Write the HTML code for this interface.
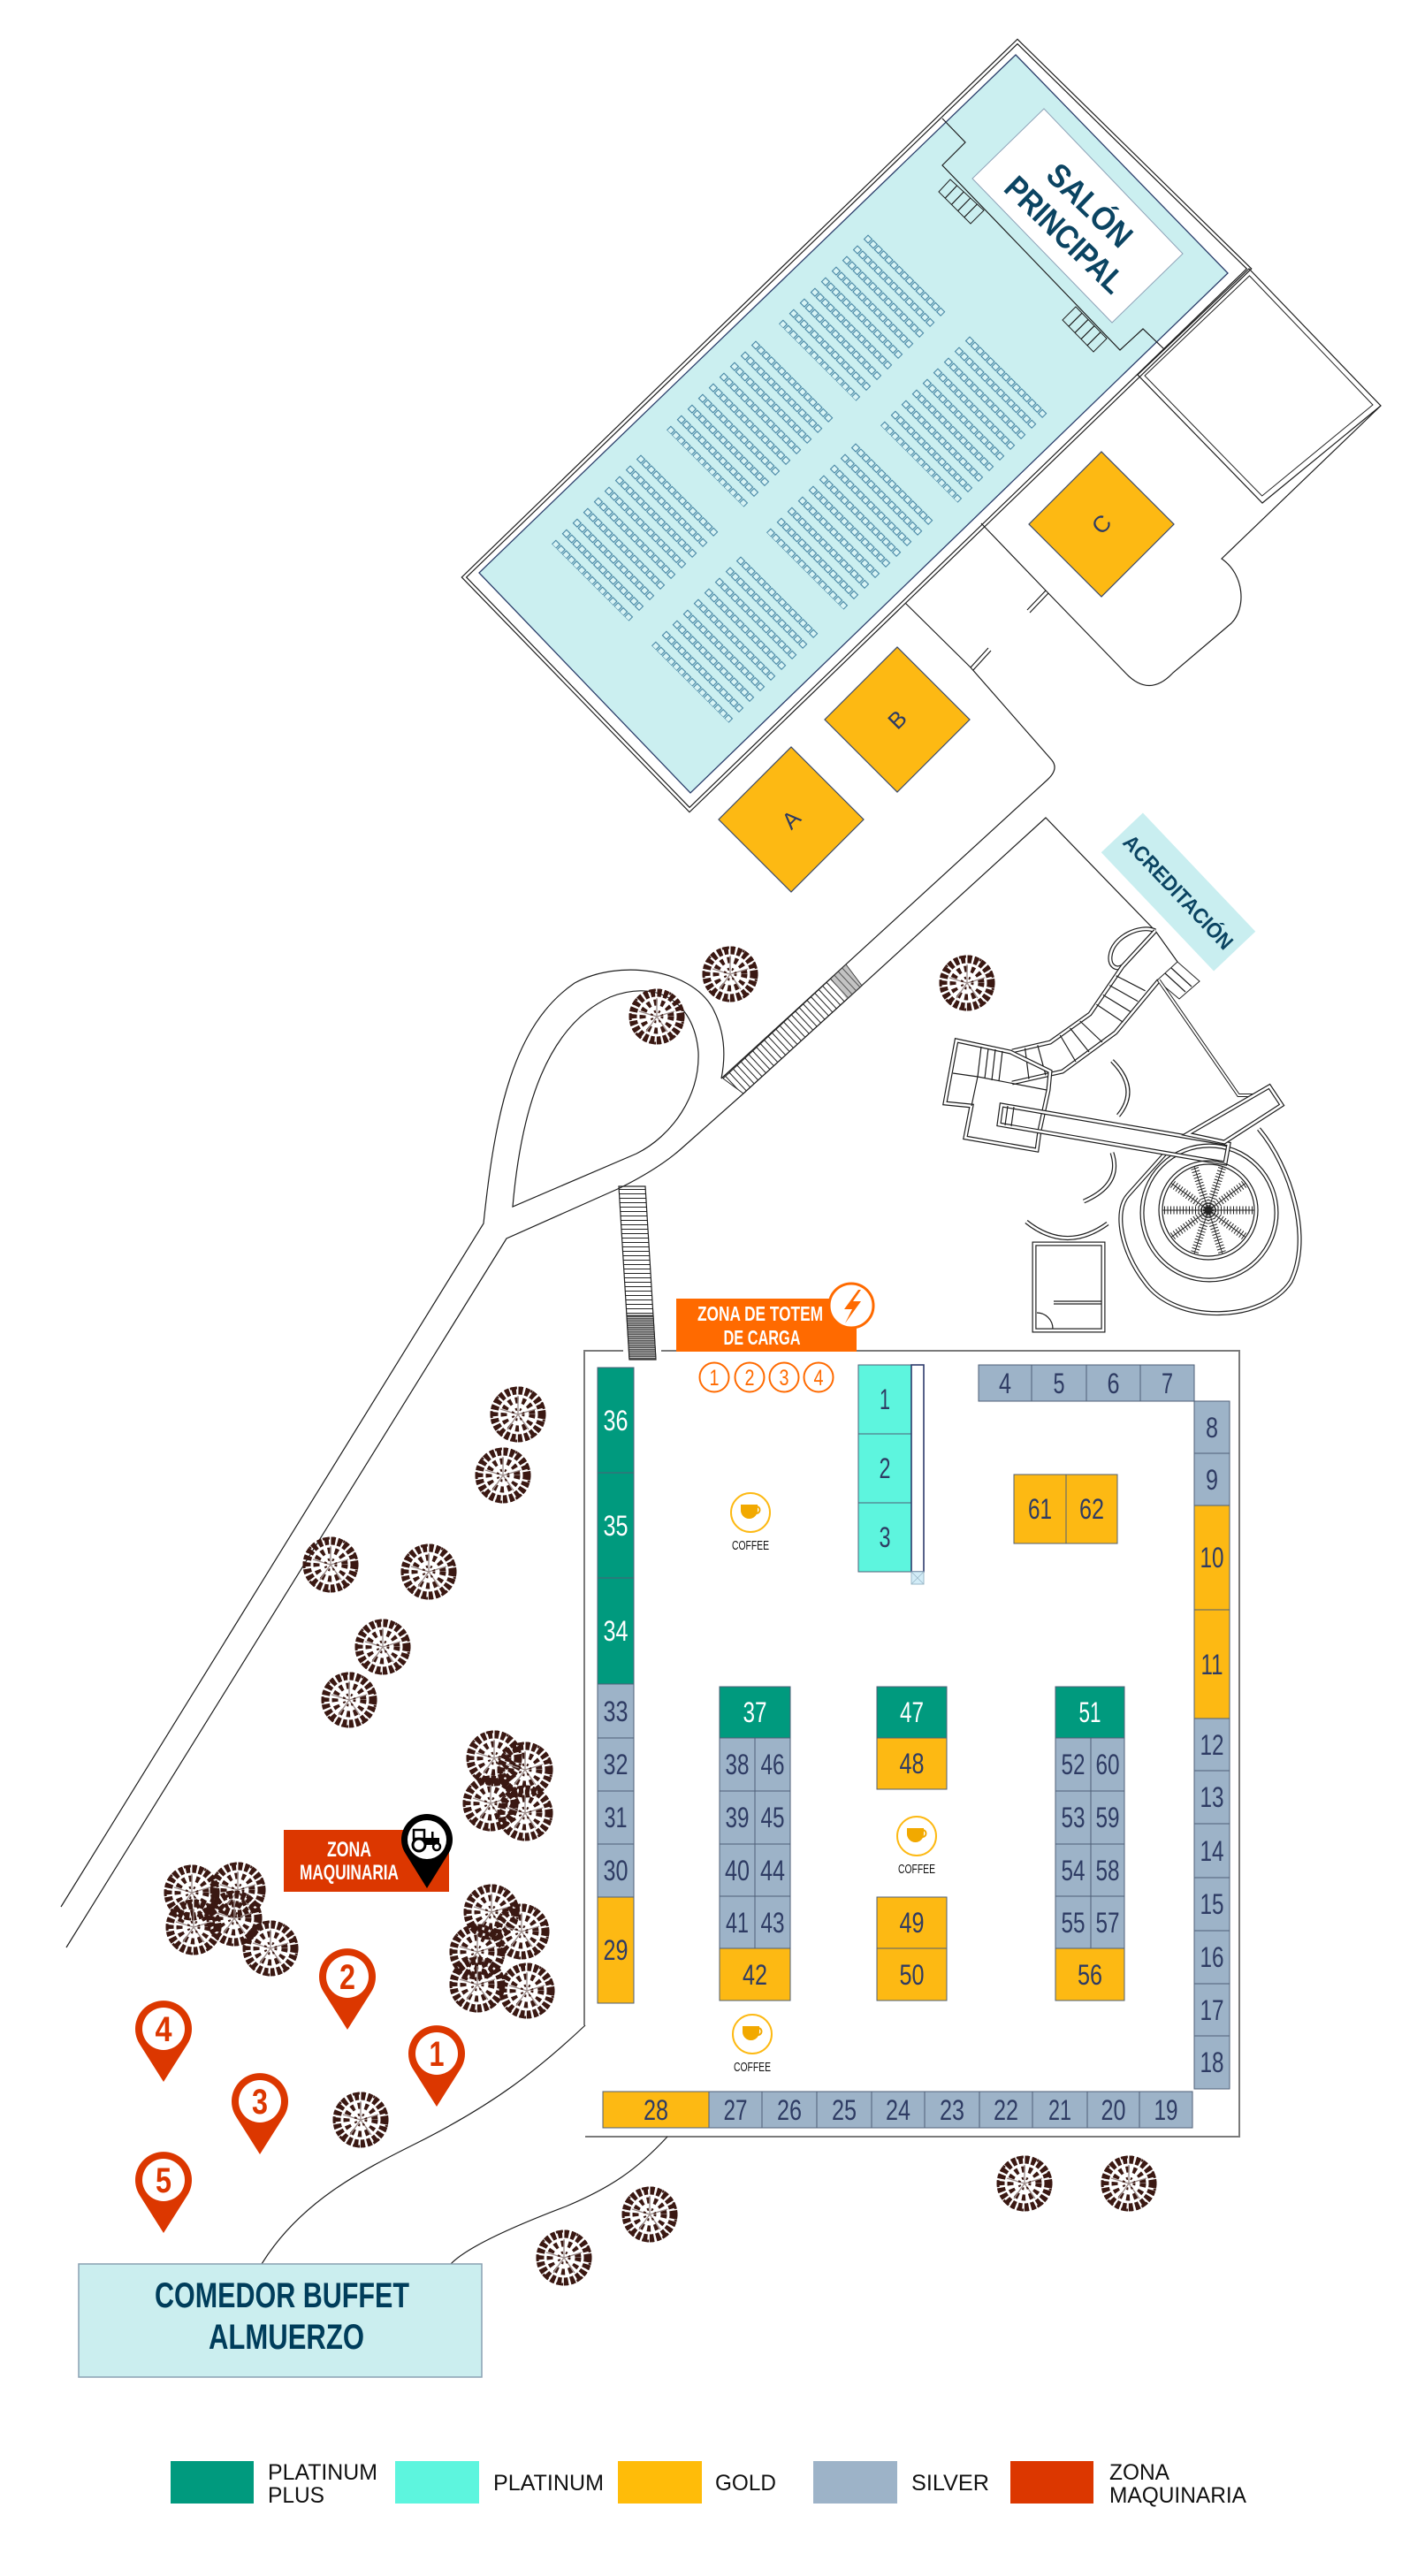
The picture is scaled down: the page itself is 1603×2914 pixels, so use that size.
<!DOCTYPE html>
<html><head><meta charset="utf-8"><style>
html,body{margin:0;padding:0;background:#fff}
svg{display:block}
.ln{fill:none;stroke:#1e1e1e;stroke-width:1.2}
.dk{fill:none;stroke:#1e1e1e;stroke-width:5}
.dw{fill:none;stroke:#fff;stroke-width:2.6}
.n{font-family:"Liberation Sans",sans-serif;font-size:32px;fill:#2e3b63;text-anchor:middle}
.nw{fill:#fff}
.bt{stroke:#4f5f77;stroke-width:1}
</style></head><body>
<svg width="1603" height="2914" viewBox="0 0 1603 2914" xmlns="http://www.w3.org/2000/svg">
<defs>
<pattern id="ch" width="8.3" height="17" patternUnits="userSpaceOnUse"><rect x="0.8" y="0.8" width="6.3" height="6.3" fill="#d8f4f5" stroke="#35789a" stroke-width="1"/></pattern>
<pattern id="hz" width="20" height="5" patternUnits="userSpaceOnUse"><line x1="0" y1="0.5" x2="20" y2="0.5" stroke="#222" stroke-width="1"/></pattern>
<pattern id="hz2" width="20" height="2.5" patternUnits="userSpaceOnUse"><rect width="20" height="2.5" fill="#555"/><line x1="0" y1="0.5" x2="20" y2="0.5" stroke="#ddd" stroke-width="0.8"/></pattern>
<pattern id="st" width="6" height="20" patternUnits="userSpaceOnUse" patternTransform="rotate(-42.9)"><line x1="0.5" y1="0" x2="0.5" y2="20" stroke="#222" stroke-width="1"/></pattern>
<symbol id="tree" viewBox="-34 -34 68 68">
<circle r="27" fill="none" stroke="#3a1812" stroke-width="9" stroke-dasharray="5 2.5"/>
<circle r="30" fill="none" stroke="#3a1812" stroke-width="3" stroke-dasharray="2 4"/>
<circle r="16" fill="none" stroke="#3a1812" stroke-width="7" stroke-dasharray="4 4"/>
<g stroke="#9c8c8a" stroke-width="1.3"><line x1="0" y1="0" x2="0" y2="-21"/><line x1="0" y1="0" x2="20" y2="-6"/><line x1="0" y1="0" x2="12" y2="17"/><line x1="0" y1="0" x2="-12" y2="17"/><line x1="0" y1="0" x2="-20" y2="-6"/></g>
<circle r="6" fill="none" stroke="#3a1812" stroke-width="3" stroke-dasharray="2 3"/>
</symbol>
<symbol id="cof" viewBox="-30 -30 60 80" overflow="visible">
<circle r="22" fill="#fff" stroke="#fdb913" stroke-width="2"/>
<path d="M-11,-9 H8 V-3 A9.5,9.5 0 0 1 -1.5,7 A9.5,9.5 0 0 1 -11,-3 Z" fill="#f2a900"/>
<path d="M7,-7 A4,4 0 1 1 6,1" fill="none" stroke="#f2a900" stroke-width="2"/>
<text x="0" y="42" font-family="Liberation Sans, sans-serif" font-size="15" text-anchor="middle" fill="#111" textLength="42" lengthAdjust="spacingAndGlyphs">COFFEE</text>
</symbol>
<path id="salonW" d="M1151,47 L1413,304 L780,916 L525,653 Z"/>
<path id="annex" d="M1413,304 L1562,459 L1428,569 L1287,424 Z"/>
<path id="tear" d="M1424,1277 C1460,1320 1485,1400 1460,1450 C1430,1495 1330,1500 1295,1450 C1268,1415 1260,1370 1276,1352 L1318,1305"/>
<path id="ramp" d="M1133,1250 L1390,1294 L1386,1316 L1130,1272 Z"/>
<path id="bridge" d="M1343,1283 L1436,1229 L1450,1250 L1385,1292 Z"/>
<path id="land" d="M1082,1177 L1143,1190 L1188,1212 L1186,1233 L1176,1279 L1173,1301 L1092,1287 L1099,1251 L1069,1248 Z"/>
<path id="flightA" d="M1307,1053 L1270,1093 L1233,1147 L1188,1179 L1145,1189"/>
<path id="flightB" d="M1311,1109 L1262,1168 L1202,1212 L1145,1225"/>
<path id="arc1" d="M1258,1200 Q1290,1232 1265,1262"/>
<path id="arc2" d="M1258,1304 Q1270,1340 1226,1359"/>
<path id="arc3" d="M1161,1382 Q1206,1418 1253,1384"/>
<path id="topArc" d="M1307,1053 C1290,1045 1258,1060 1256,1082 C1255,1092 1262,1098 1270,1093"/>
<path id="cbld" d="M1110,592 L1183,668 L1273,761 Q1300,790 1327,761 L1393,705 C1410,688 1408,650 1382,632 L1562,459"/>
</defs>

<!-- ROADS -->
<path class="ln" d="M69,2157 L547,1384 C560,1260 580,1160 650,1112 C700,1085 780,1095 806,1140 C822,1170 820,1200 816,1220"/>
<path class="ln" d="M580,1365 C590,1250 620,1160 690,1128 C740,1108 785,1130 790,1190 C792,1240 760,1285 720,1305 Z"/>
<path class="ln" d="M75,2203 L573,1401 L701,1344 Q745,1322 770,1300 L841,1237 L1183,925 L1307,1053 L1332,1088"/>
<path class="ln" d="M816,1220 L1185,882 Q1198,870 1190,860 L1098,755 L1022,680"/>
<path class="ln" d="M1098,755 L1118,733 M1101,758 L1121,736"/>
<!-- road stairs -->
<polygon points="957,1091 975,1115 841,1237 818,1220" fill="url(#st)" stroke="#222" stroke-width="1"/>
<polygon points="957,1091 975,1115 958,1130 940,1107" fill="#888" opacity="0.5"/>

<!-- expo stairs -->
<polygon points="700,1342 730,1342 742,1538 712,1538" fill="url(#hz)" stroke="#222" stroke-width="1.2"/>
<polygon points="709,1488 739,1488 742,1538 712,1538" fill="url(#hz2)" stroke="#222" stroke-width="1"/>

<!-- SALON -->
<use href="#salonW" class="dk"/><use href="#salonW" class="dw"/>
<polygon points="1149,62 1389,309 781,897 542,648" fill="#cbeff0" stroke="#2c3e6b" stroke-width="1.3"/>
<polyline class="ln" points="1066,134 1092,161 1066,187 1267,396 1293,372 1317,395"/>
<polygon points="1062,217 1075,203 1113,238 1098,253" fill="none" stroke="#222" stroke-width="1"/>
<path class="ln" d="M1069.2,224.2 L1082.6,210 M1076.4,231.4 L1090.2,217 M1083.6,238.6 L1097.8,224 M1090.8,245.8 L1105.4,231"/>
<polygon points="1202,362 1217,347 1252,383 1237,398" fill="none" stroke="#222" stroke-width="1"/>
<path class="ln" d="M1209,369.2 L1224,354.2 M1216,376.4 L1231,361.4 M1223,383.6 L1238,368.6 M1230,390.8 L1245,375.8"/>
<polygon points="1181,123 1338,287 1258,365 1100,202" fill="#fff" stroke="#8fa3b8" stroke-width="1"/>
<g transform="translate(1219,248.5) rotate(44)" font-family="Liberation Sans, sans-serif" font-weight="bold" font-size="37" fill="#0b4462" text-anchor="middle">
<text x="-1.4" y="-8.6" textLength="118" lengthAdjust="spacingAndGlyphs">SALÓN</text>
<text x="1.4" y="35" textLength="172" lengthAdjust="spacingAndGlyphs">PRINCIPAL</text>
</g>
<g transform="translate(982,265) rotate(45)"><rect width="124" height="143" fill="url(#ch)"/></g>
<g transform="translate(855,385) rotate(45)"><rect width="124" height="143" fill="url(#ch)"/></g>
<g transform="translate(725,514) rotate(45)"><rect width="124" height="143" fill="url(#ch)"/></g>
<g transform="translate(1097,380) rotate(45)"><rect width="124" height="143" fill="url(#ch)"/></g>
<g transform="translate(968,501) rotate(45)"><rect width="124" height="143" fill="url(#ch)"/></g>
<g transform="translate(838,629) rotate(45)"><rect width="124" height="143" fill="url(#ch)"/></g>

<!-- annex & C building -->
<use href="#annex" class="ln"/>
<polygon points="1413.5,312 1553,458 1427.7,561 1295,425" fill="none" stroke="#222" stroke-width="1"/>
<use href="#cbld" class="ln"/>
<path class="ln" d="M1183,668 L1162,690 M1186,671 L1165,693"/>

<!-- A B C -->
<g transform="translate(1246,593) rotate(45)"><rect x="-58" y="-58" width="116" height="116" fill="#fdb913" stroke="#3b4a6b" stroke-width="1.2"/></g>
<g transform="translate(1015,814) rotate(45)"><rect x="-58" y="-58" width="116" height="116" fill="#fdb913" stroke="#3b4a6b" stroke-width="1.2"/></g>
<g transform="translate(895,927) rotate(45)"><rect x="-58" y="-58" width="116" height="116" fill="#fdb913" stroke="#3b4a6b" stroke-width="1.2"/></g>
<g font-family="Liberation Sans, sans-serif" font-size="26" fill="#2e3b63" text-anchor="middle">
<text transform="translate(1246,593) rotate(-45)" y="9">C</text>
<text transform="translate(1015,814) rotate(-45)" y="9">B</text>
<text transform="translate(895,927) rotate(-45)" y="9">A</text>
</g>

<!-- ACREDITACION -->
<g transform="translate(1333,1009) rotate(46.5)">
<rect x="-92.5" y="-32.5" width="185" height="65" fill="#c9eef0"/>
<text x="0" y="8.5" font-family="Liberation Sans, sans-serif" font-weight="bold" font-size="24" fill="#0b4462" text-anchor="middle" textLength="168" lengthAdjust="spacingAndGlyphs">ACREDITACIÓN</text>
</g>

<!-- stair / spiral structure -->
<use href="#topArc" class="dk"/><use href="#topArc" class="dw"/>
<use href="#flightA" class="dk"/><use href="#flightA" class="dw"/>
<use href="#flightB" class="dk"/><use href="#flightB" class="dw"/>
<path class="ln" d="M1262.6,1103.8 L1295.6,1120.8 M1255.2,1114.6 L1287.2,1132.6 M1247.8,1125.4 L1278.8,1144.4 M1240.4,1136.2 L1270.4,1156.2 M1221.75,1155 L1247,1179 M1210.5,1163 L1232,1190 M1199.25,1171 L1217,1201 M1173.8,1182.3 L1183,1216.3 M1159.6,1185.6 L1164,1220.8"/>
<polygon points="1309,1109 1332,1088 1357,1110 1334,1130" fill="none" stroke="#222" stroke-width="1"/>
<path class="ln" d="M1318,1101 L1341,1122 M1325,1095 L1348,1116"/>
<path class="dk" d="M1311,1109 L1401,1239 L1417,1239" style="stroke-width:4"/><path class="dw" d="M1311,1109 L1401,1239 L1417,1239" style="stroke-width:2"/>
<use href="#land" class="dk"/><use href="#land" class="dw"/>
<path class="ln" d="M1078,1214 L1106,1218 L1184,1233 M1106,1218 L1099,1251 M1110,1184 L1106,1218 M1118,1186 L1114,1220 M1126,1187 L1122,1222 M1134,1189 L1130,1223"/>
<use href="#tear" class="dk"/><use href="#tear" class="dw"/>
<circle cx="1368" cy="1372" r="76" class="dk"/><circle cx="1368" cy="1372" r="76" class="dw"/>
<use href="#ramp" class="dk"/><use href="#ramp" class="dw"/>
<path class="ln" d="M1140,1251 L1137,1273 M1147,1252 L1144,1274"/>
<use href="#bridge" class="dk"/><use href="#bridge" class="dw"/>
<circle cx="1367" cy="1369" r="56" class="ln"/>
<circle cx="1367" cy="1369" r="52" class="ln"/>
<g stroke="#222" fill="none">
<path stroke-width="9" stroke-dasharray="1 2.5" d="M1367,1369 L1419,1369 M1367,1369 L1409.1,1399.6 M1367,1369 L1383.1,1418.5 M1367,1369 L1350.9,1418.5 M1367,1369 L1324.9,1399.6 M1367,1369 L1315,1369 M1367,1369 L1324.9,1338.4 M1367,1369 L1350.9,1319.5 M1367,1369 L1383.1,1319.5 M1367,1369 L1409.1,1338.4"/>
<path stroke-width="0.9" d="M1367,1369 L1419,1369 M1367,1369 L1409.1,1399.6 M1367,1369 L1383.1,1418.5 M1367,1369 L1350.9,1418.5 M1367,1369 L1324.9,1399.6 M1367,1369 L1315,1369 M1367,1369 L1324.9,1338.4 M1367,1369 L1350.9,1319.5 M1367,1369 L1383.1,1319.5 M1367,1369 L1409.1,1338.4"/>
</g>
<use href="#arc1" class="dk"/><use href="#arc1" class="dw"/>
<use href="#arc2" class="dk"/><use href="#arc2" class="dw"/>
<use href="#arc3" class="dk"/><use href="#arc3" class="dw"/>
<rect x="1170" y="1407" width="78" height="98" class="dk"/><rect x="1170" y="1407" width="78" height="98" class="dw"/>
<path class="ln" d="M1192,1472 L1246,1472 M1192,1475 L1246,1475 M1173,1485 A18,18 0 0 1 1191,1503"/>

<!-- EXPO outline -->
<path d="M661,2291 L661,1528 L705,1528 M748,1528 L1402,1528 L1402,2417 L662,2417" fill="none" stroke="#7a7a7a" stroke-width="2"/>
<path class="ln" d="M662,2291 C610,2340 560,2380 470,2425 C410,2455 340,2490 296,2561"/>
<path class="ln" d="M755,2417 C720,2455 690,2475 640,2496 C590,2515 530,2540 510,2561"/>

<!-- Zona de totem -->
<rect x="765" y="1469" width="204" height="60" fill="#ff6a00"/>
<g font-family="Liberation Sans, sans-serif" font-weight="bold" font-size="23" fill="#fff" text-anchor="middle">
<text x="860" y="1494" textLength="142" lengthAdjust="spacingAndGlyphs">ZONA DE TOTEM</text>
<text x="862" y="1521" textLength="87" lengthAdjust="spacingAndGlyphs">DE CARGA</text>
</g>
<circle cx="963" cy="1477" r="25" fill="#fff" stroke="#ff6a00" stroke-width="3"/>
<polygon points="971,1459 955,1481 964,1481 956,1497 974,1472 965,1472 974,1459" fill="#ff6a00"/>
<g fill="#fff" stroke="#ff6a00" stroke-width="2">
<circle cx="808" cy="1558" r="16.5"/><circle cx="848" cy="1558" r="16.5"/><circle cx="887" cy="1558" r="16.5"/><circle cx="926" cy="1558" r="16.5"/>
</g>
<g font-family="Liberation Sans, sans-serif" font-size="25" fill="#ff6a00" text-anchor="middle">
<text x="808" y="1567" textLength="11" lengthAdjust="spacingAndGlyphs">1</text>
<text x="848" y="1567" textLength="11" lengthAdjust="spacingAndGlyphs">2</text>
<text x="887" y="1567" textLength="11" lengthAdjust="spacingAndGlyphs">3</text>
<text x="926" y="1567" textLength="11" lengthAdjust="spacingAndGlyphs">4</text>
</g>

<!-- BOOTHS -->
<g class="bt">
<rect x="676" y="1547" width="41" height="119" fill="#009a7e"/>
<rect x="676" y="1666" width="41" height="119" fill="#009a7e"/>
<rect x="676" y="1785" width="41" height="120" fill="#009a7e"/>
<rect x="676" y="1905" width="41" height="61" fill="#9db3c8"/>
<rect x="676" y="1966" width="41" height="60" fill="#9db3c8"/>
<rect x="676" y="2026" width="41" height="60" fill="#9db3c8"/>
<rect x="676" y="2086" width="41" height="60" fill="#9db3c8"/>
<rect x="676" y="2146" width="41" height="120" fill="#fdb913"/>
<rect x="971" y="1544" width="60" height="78" fill="#5df5de"/>
<rect x="971" y="1622" width="60" height="78" fill="#5df5de"/>
<rect x="971" y="1700" width="60" height="78" fill="#5df5de"/>
<rect x="1107" y="1544" width="60" height="41" fill="#9db3c8"/>
<rect x="1167" y="1544" width="62" height="41" fill="#9db3c8"/>
<rect x="1229" y="1544" width="61" height="41" fill="#9db3c8"/>
<rect x="1290" y="1544" width="61" height="41" fill="#9db3c8"/>
<rect x="1351" y="1585" width="40" height="59" fill="#9db3c8"/>
<rect x="1351" y="1644" width="40" height="59" fill="#9db3c8"/>
<rect x="1351" y="1703" width="40" height="118" fill="#fdb913"/>
<rect x="1351" y="1821" width="40" height="123" fill="#fdb913"/>
<rect x="1351" y="1944" width="40" height="59" fill="#9db3c8"/>
<rect x="1351" y="2003" width="40" height="60" fill="#9db3c8"/>
<rect x="1351" y="2063" width="40" height="61" fill="#9db3c8"/>
<rect x="1351" y="2124" width="40" height="60" fill="#9db3c8"/>
<rect x="1351" y="2184" width="40" height="60" fill="#9db3c8"/>
<rect x="1351" y="2244" width="40" height="59" fill="#9db3c8"/>
<rect x="1351" y="2303" width="40" height="60" fill="#9db3c8"/>
<rect x="1147" y="1668" width="59" height="78" fill="#fdb913"/>
<rect x="1206" y="1668" width="58" height="78" fill="#fdb913"/>
<rect x="814" y="1908" width="80" height="58" fill="#009a7e"/>
<rect x="814" y="1966" width="40" height="60" fill="#9db3c8"/><rect x="854" y="1966" width="40" height="60" fill="#9db3c8"/>
<rect x="814" y="2026" width="40" height="60" fill="#9db3c8"/><rect x="854" y="2026" width="40" height="60" fill="#9db3c8"/>
<rect x="814" y="2086" width="40" height="59" fill="#9db3c8"/><rect x="854" y="2086" width="40" height="59" fill="#9db3c8"/>
<rect x="814" y="2145" width="40" height="59" fill="#9db3c8"/><rect x="854" y="2145" width="40" height="59" fill="#9db3c8"/>
<rect x="814" y="2204" width="80" height="59" fill="#fdb913"/>
<rect x="992" y="1908" width="79" height="58" fill="#009a7e"/>
<rect x="992" y="1966" width="79" height="58" fill="#fdb913"/>
<rect x="992" y="2146" width="79" height="58" fill="#fdb913"/>
<rect x="992" y="2204" width="79" height="59" fill="#fdb913"/>
<rect x="1194" y="1908" width="78" height="58" fill="#009a7e"/>
<rect x="1194" y="1966" width="40" height="60" fill="#9db3c8"/><rect x="1234" y="1966" width="38" height="60" fill="#9db3c8"/>
<rect x="1194" y="2026" width="40" height="60" fill="#9db3c8"/><rect x="1234" y="2026" width="38" height="60" fill="#9db3c8"/>
<rect x="1194" y="2086" width="40" height="59" fill="#9db3c8"/><rect x="1234" y="2086" width="38" height="59" fill="#9db3c8"/>
<rect x="1194" y="2145" width="40" height="59" fill="#9db3c8"/><rect x="1234" y="2145" width="38" height="59" fill="#9db3c8"/>
<rect x="1194" y="2204" width="78" height="59" fill="#fdb913"/>
<rect x="682" y="2366" width="120" height="41" fill="#fdb913"/>
<rect x="802" y="2366" width="60" height="41" fill="#9db3c8"/>
<rect x="862" y="2366" width="62" height="41" fill="#9db3c8"/>
<rect x="924" y="2366" width="62" height="41" fill="#9db3c8"/>
<rect x="986" y="2366" width="60" height="41" fill="#9db3c8"/>
<rect x="1046" y="2366" width="62" height="41" fill="#9db3c8"/>
<rect x="1108" y="2366" width="60" height="41" fill="#9db3c8"/>
<rect x="1168" y="2366" width="62" height="41" fill="#9db3c8"/>
<rect x="1230" y="2366" width="59" height="41" fill="#9db3c8"/>
<rect x="1289" y="2366" width="60" height="41" fill="#9db3c8"/>
</g>
<rect x="1031" y="1544" width="14" height="234" fill="#fff" stroke="#2d3a6c" stroke-width="1.6"/>
<rect x="1031" y="1778" width="14" height="14" fill="#d2ecf7" stroke="#9bb8c8" stroke-width="1"/>
<path d="M1031,1778 L1045,1792 M1045,1778 L1031,1792" stroke="#9bb8c8" stroke-width="0.8"/>

<g class="n">
<text class="n nw" x="696.5" y="1618" textLength="28" lengthAdjust="spacingAndGlyphs">36</text>
<text class="n nw" x="696.5" y="1737" textLength="28" lengthAdjust="spacingAndGlyphs">35</text>
<text class="n nw" x="696.5" y="1856" textLength="28" lengthAdjust="spacingAndGlyphs">34</text>
<text class="n" x="696.5" y="1947" textLength="28" lengthAdjust="spacingAndGlyphs">33</text>
<text class="n" x="696.5" y="2007" textLength="28" lengthAdjust="spacingAndGlyphs">32</text>
<text class="n" x="696.5" y="2067" textLength="26" lengthAdjust="spacingAndGlyphs">31</text>
<text class="n" x="696.5" y="2127" textLength="28" lengthAdjust="spacingAndGlyphs">30</text>
<text class="n" x="696.5" y="2217" textLength="28" lengthAdjust="spacingAndGlyphs">29</text>
<text class="n" x="1001" y="1594" textLength="12" lengthAdjust="spacingAndGlyphs">1</text>
<text class="n" x="1001" y="1672" textLength="13" lengthAdjust="spacingAndGlyphs">2</text>
<text class="n" x="1001" y="1750" textLength="13" lengthAdjust="spacingAndGlyphs">3</text>
<text class="n" x="1137" y="1576" textLength="14" lengthAdjust="spacingAndGlyphs">4</text>
<text class="n" x="1198" y="1576" textLength="13" lengthAdjust="spacingAndGlyphs">5</text>
<text class="n" x="1259.5" y="1576" textLength="14" lengthAdjust="spacingAndGlyphs">6</text>
<text class="n" x="1320.5" y="1576" textLength="13" lengthAdjust="spacingAndGlyphs">7</text>
<text class="n" x="1371" y="1626" textLength="14" lengthAdjust="spacingAndGlyphs">8</text>
<text class="n" x="1371" y="1685" textLength="14" lengthAdjust="spacingAndGlyphs">9</text>
<text class="n" x="1371" y="1773" textLength="27" lengthAdjust="spacingAndGlyphs">10</text>
<text class="n" x="1371" y="1894" textLength="25" lengthAdjust="spacingAndGlyphs">11</text>
<text class="n" x="1371" y="1985" textLength="27" lengthAdjust="spacingAndGlyphs">12</text>
<text class="n" x="1371" y="2044" textLength="27" lengthAdjust="spacingAndGlyphs">13</text>
<text class="n" x="1371" y="2105" textLength="27" lengthAdjust="spacingAndGlyphs">14</text>
<text class="n" x="1371" y="2165" textLength="27" lengthAdjust="spacingAndGlyphs">15</text>
<text class="n" x="1371" y="2225" textLength="27" lengthAdjust="spacingAndGlyphs">16</text>
<text class="n" x="1371" y="2285" textLength="27" lengthAdjust="spacingAndGlyphs">17</text>
<text class="n" x="1371" y="2344" textLength="27" lengthAdjust="spacingAndGlyphs">18</text>
<text class="n" x="1176.5" y="1718" textLength="27" lengthAdjust="spacingAndGlyphs">61</text>
<text class="n" x="1235" y="1718" textLength="28" lengthAdjust="spacingAndGlyphs">62</text>
<text class="n nw" x="854" y="1948" textLength="27" lengthAdjust="spacingAndGlyphs">37</text>
<text class="n" x="834" y="2007" textLength="27" lengthAdjust="spacingAndGlyphs">38</text>
<text class="n" x="874" y="2007" textLength="27" lengthAdjust="spacingAndGlyphs">46</text>
<text class="n" x="834" y="2067" textLength="27" lengthAdjust="spacingAndGlyphs">39</text>
<text class="n" x="874" y="2067" textLength="27" lengthAdjust="spacingAndGlyphs">45</text>
<text class="n" x="834" y="2127" textLength="28" lengthAdjust="spacingAndGlyphs">40</text>
<text class="n" x="874" y="2127" textLength="28" lengthAdjust="spacingAndGlyphs">44</text>
<text class="n" x="834" y="2186" textLength="26" lengthAdjust="spacingAndGlyphs">41</text>
<text class="n" x="874" y="2186" textLength="27" lengthAdjust="spacingAndGlyphs">43</text>
<text class="n" x="854" y="2245" textLength="28" lengthAdjust="spacingAndGlyphs">42</text>
<text class="n nw" x="1031.5" y="1948" textLength="27" lengthAdjust="spacingAndGlyphs">47</text>
<text class="n" x="1031.5" y="2006" textLength="28" lengthAdjust="spacingAndGlyphs">48</text>
<text class="n" x="1031.5" y="2186" textLength="28" lengthAdjust="spacingAndGlyphs">49</text>
<text class="n" x="1031.5" y="2245" textLength="28" lengthAdjust="spacingAndGlyphs">50</text>
<text class="n nw" x="1233" y="1948" textLength="25" lengthAdjust="spacingAndGlyphs">51</text>
<text class="n" x="1214" y="2007" textLength="27" lengthAdjust="spacingAndGlyphs">52</text>
<text class="n" x="1253" y="2007" textLength="27" lengthAdjust="spacingAndGlyphs">60</text>
<text class="n" x="1214" y="2067" textLength="27" lengthAdjust="spacingAndGlyphs">53</text>
<text class="n" x="1253" y="2067" textLength="27" lengthAdjust="spacingAndGlyphs">59</text>
<text class="n" x="1214" y="2127" textLength="27" lengthAdjust="spacingAndGlyphs">54</text>
<text class="n" x="1253" y="2127" textLength="27" lengthAdjust="spacingAndGlyphs">58</text>
<text class="n" x="1214" y="2186" textLength="27" lengthAdjust="spacingAndGlyphs">55</text>
<text class="n" x="1253" y="2186" textLength="27" lengthAdjust="spacingAndGlyphs">57</text>
<text class="n" x="1233" y="2245" textLength="28" lengthAdjust="spacingAndGlyphs">56</text>
<text class="n" x="742" y="2398" textLength="28" lengthAdjust="spacingAndGlyphs">28</text>
<text class="n" x="832" y="2398" textLength="27" lengthAdjust="spacingAndGlyphs">27</text>
<text class="n" x="893" y="2398" textLength="28" lengthAdjust="spacingAndGlyphs">26</text>
<text class="n" x="955" y="2398" textLength="28" lengthAdjust="spacingAndGlyphs">25</text>
<text class="n" x="1016" y="2398" textLength="28" lengthAdjust="spacingAndGlyphs">24</text>
<text class="n" x="1077" y="2398" textLength="28" lengthAdjust="spacingAndGlyphs">23</text>
<text class="n" x="1138" y="2398" textLength="28" lengthAdjust="spacingAndGlyphs">22</text>
<text class="n" x="1199" y="2398" textLength="26" lengthAdjust="spacingAndGlyphs">21</text>
<text class="n" x="1259.5" y="2398" textLength="28" lengthAdjust="spacingAndGlyphs">20</text>
<text class="n" x="1319" y="2398" textLength="27" lengthAdjust="spacingAndGlyphs">19</text>
</g>

<!-- coffee -->
<use href="#cof" x="819" y="1681" width="60" height="80"/>
<use href="#cof" x="1007" y="2047" width="60" height="80"/>
<use href="#cof" x="821" y="2271" width="60" height="80"/>

<!-- TREES -->
<g>
<use href="#tree" x="792" y="1068" width="68" height="68"/>
<use href="#tree" x="709" y="1116" width="68" height="68"/>
<use href="#tree" x="1060" y="1078" width="68" height="68"/>
<use href="#tree" x="552" y="1566" width="68" height="68"/>
<use href="#tree" x="535" y="1635" width="68" height="68"/>
<use href="#tree" x="340" y="1736" width="68" height="68"/>
<use href="#tree" x="451" y="1744" width="68" height="68"/>
<use href="#tree" x="399" y="1829" width="68" height="68"/>
<use href="#tree" x="361" y="1889" width="68" height="68"/>
<use href="#tree" x="525" y="1955" width="68" height="68"/>
<use href="#tree" x="560" y="1968" width="68" height="68"/>
<use href="#tree" x="521" y="2006" width="68" height="68"/>
<use href="#tree" x="560" y="2017" width="68" height="68"/>
<use href="#tree" x="183" y="2107" width="68" height="68"/>
<use href="#tree" x="235" y="2104" width="68" height="68"/>
<use href="#tree" x="185" y="2146" width="68" height="68"/>
<use href="#tree" x="231" y="2136" width="68" height="68"/>
<use href="#tree" x="272" y="2170" width="68" height="68"/>
<use href="#tree" x="522" y="2129" width="68" height="68"/>
<use href="#tree" x="556" y="2151" width="68" height="68"/>
<use href="#tree" x="506" y="2174" width="68" height="68"/>
<use href="#tree" x="506" y="2211" width="68" height="68"/>
<use href="#tree" x="562" y="2218" width="68" height="68"/>
<use href="#tree" x="374" y="2364" width="68" height="68"/>
<use href="#tree" x="604" y="2520" width="68" height="68"/>
<use href="#tree" x="701" y="2471" width="68" height="68"/>
<use href="#tree" x="1125" y="2436" width="68" height="68"/>
<use href="#tree" x="1243" y="2436" width="68" height="68"/>
</g>

<!-- ZONA MAQUINARIA -->
<rect x="321" y="2070" width="187" height="70" fill="#dc3700"/>
<g font-family="Liberation Sans, sans-serif" font-weight="bold" font-size="24" fill="#fff" text-anchor="middle">
<text x="395" y="2100" textLength="50" lengthAdjust="spacingAndGlyphs">ZONA</text>
<text x="395" y="2126" textLength="112" lengthAdjust="spacingAndGlyphs">MAQUINARIA</text>
</g>
<g transform="translate(483,2081)">
<path d="M0,55 L-24.6,15.3 A29,29 0 1 1 24.6,15.3 Z" fill="#000"/>
<circle r="22" fill="#fff"/>
<rect x="-15" y="-11" width="12" height="10" fill="none" stroke="#000" stroke-width="2.5"/>
<rect x="-16" y="-2" width="30" height="8" fill="#000"/>
<rect x="5" y="-9" width="2.5" height="7" fill="#000"/>
<circle cx="-9" cy="6" r="7" fill="#fff" stroke="#000" stroke-width="3"/>
<circle cx="11" cy="8" r="4" fill="#fff" stroke="#000" stroke-width="2.5"/>
</g>

<!-- PINS -->
<g font-family="Liberation Sans, sans-serif" font-weight="bold" font-size="40" fill="#dc3700" text-anchor="middle">
<g transform="translate(494,2323)"><path d="M0,60 L-27.1,17.1 A32,32 0 1 1 27.1,17.1 Z" fill="#dc3700"/><circle r="24" fill="#fff"/><text y="14" textLength="17" lengthAdjust="spacingAndGlyphs">1</text></g>
<g transform="translate(393,2236)"><path d="M0,60 L-27.1,17.1 A32,32 0 1 1 27.1,17.1 Z" fill="#dc3700"/><circle r="24" fill="#fff"/><text y="14" textLength="18" lengthAdjust="spacingAndGlyphs">2</text></g>
<g transform="translate(294,2377)"><path d="M0,60 L-27.1,17.1 A32,32 0 1 1 27.1,17.1 Z" fill="#dc3700"/><circle r="24" fill="#fff"/><text y="14" textLength="18" lengthAdjust="spacingAndGlyphs">3</text></g>
<g transform="translate(185,2295)"><path d="M0,60 L-27.1,17.1 A32,32 0 1 1 27.1,17.1 Z" fill="#dc3700"/><circle r="24" fill="#fff"/><text y="14" textLength="19" lengthAdjust="spacingAndGlyphs">4</text></g>
<g transform="translate(185,2466)"><path d="M0,60 L-27.1,17.1 A32,32 0 1 1 27.1,17.1 Z" fill="#dc3700"/><circle r="24" fill="#fff"/><text y="14" textLength="18" lengthAdjust="spacingAndGlyphs">5</text></g>
</g>

<!-- COMEDOR -->
<rect x="89" y="2561" width="456" height="128" fill="#cbeeef" stroke="#8aa0b2" stroke-width="1.5"/>
<g font-family="Liberation Sans, sans-serif" font-weight="bold" font-size="40" fill="#003d5b" text-anchor="middle">
<text x="319" y="2610" textLength="288" lengthAdjust="spacingAndGlyphs">COMEDOR BUFFET</text>
<text x="324" y="2657" textLength="176" lengthAdjust="spacingAndGlyphs">ALMUERZO</text>
</g>

<!-- LEGEND -->
<rect x="193" y="2784" width="94" height="48" fill="#009a7e"/>
<rect x="447" y="2784" width="95" height="48" fill="#5df5de"/>
<rect x="699" y="2784" width="95" height="48" fill="#ffbc09"/>
<rect x="920" y="2784" width="95" height="48" fill="#9db3c8"/>
<rect x="1143" y="2784" width="94" height="48" fill="#dc3700"/>
<g font-family="Liberation Sans, sans-serif" font-size="25" fill="#111">
<text x="303" y="2805" textLength="124" lengthAdjust="spacingAndGlyphs">PLATINUM</text>
<text x="303" y="2831" textLength="64" lengthAdjust="spacingAndGlyphs">PLUS</text>
<text x="558" y="2817" textLength="125" lengthAdjust="spacingAndGlyphs">PLATINUM</text>
<text x="809" y="2817" textLength="69" lengthAdjust="spacingAndGlyphs">GOLD</text>
<text x="1031" y="2817" textLength="88" lengthAdjust="spacingAndGlyphs">SILVER</text>
<text x="1255" y="2805" textLength="68" lengthAdjust="spacingAndGlyphs">ZONA</text>
<text x="1255" y="2831" textLength="155" lengthAdjust="spacingAndGlyphs">MAQUINARIA</text>
</g>
</svg>
</body></html>
